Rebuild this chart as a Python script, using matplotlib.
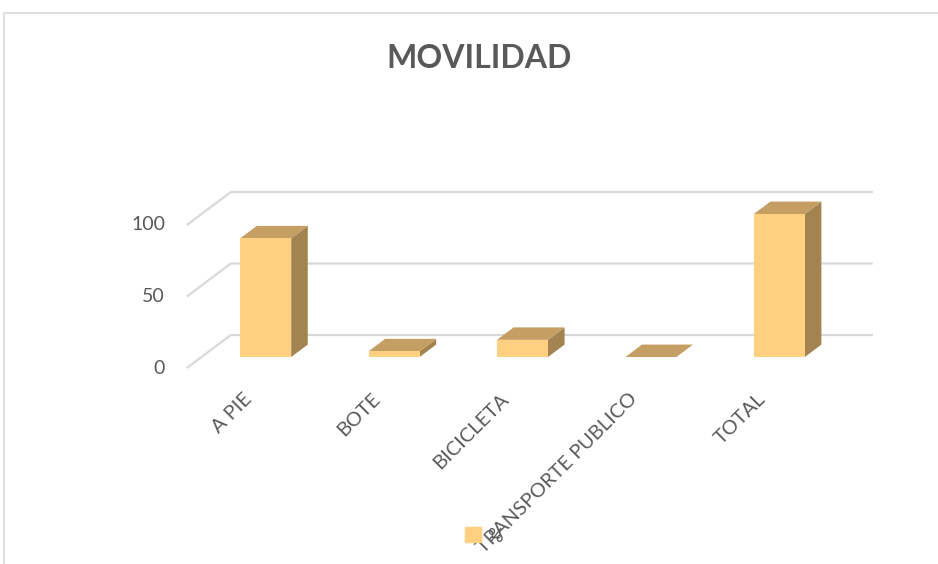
import numpy as np
import matplotlib.pyplot as plt
from matplotlib.patches import Rectangle, Patch

### datos
categorias = ['A PIE', 'BOTE', 'BICICLETA', 'TRANSPORTE PUBLICO', 'TOTAL']
valores = [83, 4, 12, 0, 100]
ticks_y = [0, 50, 100]
serie = '%'

### colores
c_frente = '#FFD080'
c_arriba = '#C49E62'
c_lado = '#A38450'
c_grid = '#D9D9D9'
c_texto = '#595959'

plt.rcParams['font.family'] = ['Lato', 'DejaVu Sans']

### proyeccion pseudo 3D (categoria, valor, profundidad)
DX = 0.3427
DY = 23.08

def proj(x, v, z):
    return x + z * DX, v + z * DY

fig = plt.figure(figsize=(9.38, 5.64), dpi=100)
ax = fig.add_axes([0, 0, 1, 1])
ax.set_xlim(-1.955, 5.350)
ax.set_ylim(-137.06, 257.34)
ax.axis('off')

n = len(categorias)
x0, x1 = -0.5, n - 0.5

### lineas de division
for v in ticks_y:
    pa = proj(x0, v, 0)
    pb = proj(x0, v, 1)
    pc = proj(x1, v, 1)
    ax.plot([pa[0], pb[0], pc[0]], [pa[1], pb[1], pc[1]],
            color=c_grid, lw=1.6, zorder=1, solid_capstyle='butt')
    tx, ty = proj(-0.67, v, 0)
    ax.text(tx, ty, str(v), ha='right', va='center', fontsize=14, color=c_texto)

### barras
hw = 0.1986
z0, z1 = 1 / 3, 0.71
for i, v in enumerate(valores):
    xl, xr = i - hw, i + hw
    # lado
    pts = [proj(xr, 0, z0), proj(xr, 0, z1), proj(xr, v, z1), proj(xr, v, z0)]
    ax.fill(*zip(*pts), color=c_lado, zorder=2, lw=0)
    # arriba
    pts = [proj(xl, v, z0), proj(xr, v, z0), proj(xr, v, z1), proj(xl, v, z1)]
    ax.fill(*zip(*pts), color=c_arriba, zorder=3, lw=0)
    # frente
    pts = [proj(xl, 0, z0), proj(xr, 0, z0), proj(xr, v, z0), proj(xl, v, z0)]
    ax.fill(*zip(*pts), color=c_frente, zorder=4, lw=0)

### etiquetas de categoria
for i, c in enumerate(categorias):
    ax.text(i - 0.06, -15.5, c, rotation=45, rotation_mode='anchor',
            ha='right', va='top', fontsize=14.4, color=c_texto, zorder=6)

### titulo
fig.text(479 / 938, 1 - 58 / 564, 'MOVILIDAD', ha='center', va='center',
         fontsize=23, fontweight='bold', color=c_texto)

### leyenda
fig.legend(handles=[Patch(color=c_frente)], labels=[serie], loc='center',
           bbox_to_anchor=(484 / 938, 1 - 536 / 564), frameon=False,
           fontsize=14, labelcolor=c_texto, handlelength=0.8, handleheight=0.8,
           handletextpad=0.3)

### borde del grafico
fig.patches.append(Rectangle((4 / 938, -0.1), 2, 1 - 13 / 564 + 0.1,
                             transform=fig.transFigure, fill=False,
                             edgecolor=c_grid, lw=1.2))

plt.savefig('out.png', dpi=100)
